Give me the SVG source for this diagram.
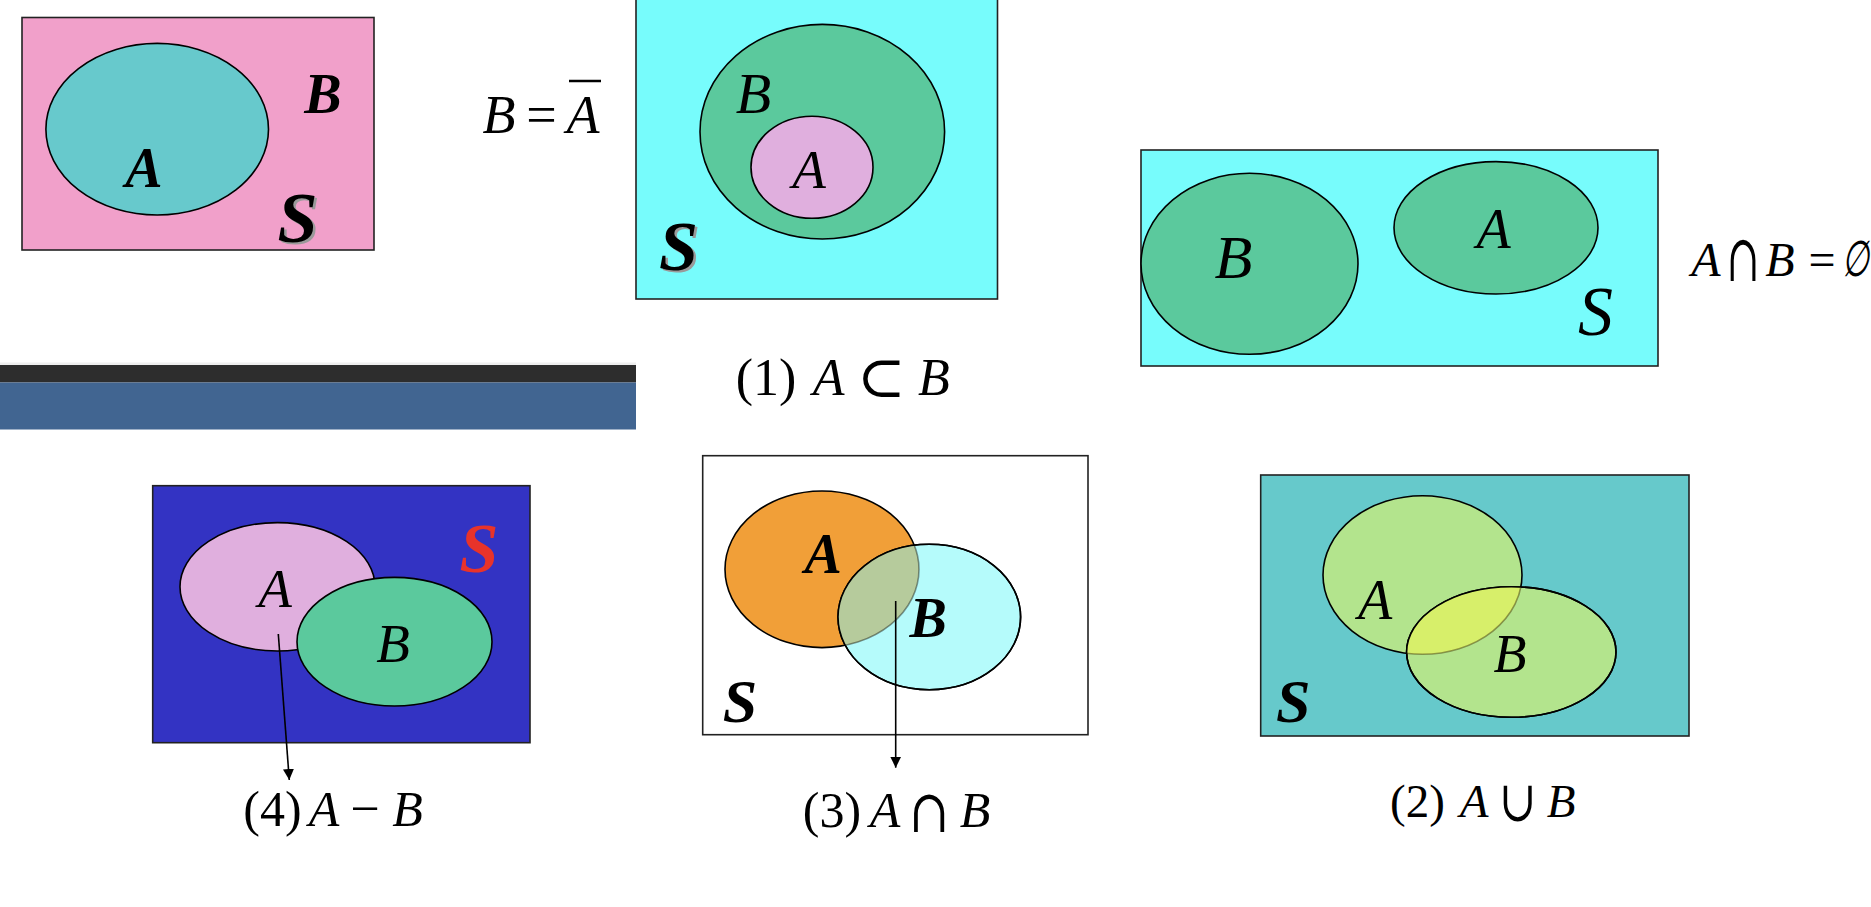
<svg xmlns="http://www.w3.org/2000/svg" width="1871" height="907" viewBox="0 0 1871 907">
<style>
.bi{font-family:"Liberation Serif","Times New Roman",serif;font-style:italic;font-weight:bold;text-anchor:middle}
.i{font-family:"Liberation Serif","Times New Roman",serif;font-style:italic;text-anchor:middle}
.r{font-family:"Liberation Serif","Times New Roman",serif;text-anchor:middle}
.m{font-family:"DejaVu Serif",serif;text-anchor:middle}
.frame{stroke:#222;stroke-width:1.6}
.edge{stroke:#000;stroke-width:1.6}
.conn{stroke:#000;stroke-width:1.6;fill:none}
</style>
<defs>
<marker id="ah" viewBox="0 0 10 10" refX="10" refY="5" markerWidth="11" markerHeight="11" markerUnits="userSpaceOnUse" orient="auto">
<path d="M0,0 L10,5 L0,10 Z" fill="#000"/>
</marker>
<clipPath id="clipB3"><ellipse cx="929.3" cy="617" rx="91.3" ry="72.7"/></clipPath>
<clipPath id="clipB2"><ellipse cx="1511.3" cy="652" rx="104.7" ry="65.3"/></clipPath>
</defs>
<rect width="1871" height="907" fill="#fff"/>

<g id="complement">
<rect x="22" y="17.5" width="352" height="232.5" fill="#F1A0CA" class="frame"/>
<ellipse cx="157.2" cy="129.2" rx="111.3" ry="85.8" fill="#67C9CC" class="edge"/>
<text class="bi" x="144" y="187" font-size="56">A</text>
<text class="bi" x="323" y="113" font-size="56">B</text>
<text class="bi" x="300" y="244" font-size="72" fill="#9a9a9a">S</text>
<text class="bi" x="297.5" y="242" font-size="72">S</text>
</g>

<g id="complement-formula">
<text class="i" x="499" y="133" font-size="54">B</text>
<text class="r" x="541.5" y="133" font-size="54">=</text>
<text class="i" x="583" y="133" font-size="54">A</text>
<line x1="569" y1="81" x2="601" y2="81" stroke="#000" stroke-width="2.5"/>
</g>

<g id="subset">
<rect x="636" y="-2" width="361.5" height="301" fill="#77FCFC" class="frame"/>
<ellipse cx="822.3" cy="131.7" rx="122.3" ry="107.3" fill="#5BC99D" class="edge"/>
<ellipse cx="812" cy="167.3" rx="61" ry="51" fill="#E0AFDE" class="edge"/>
<text class="i" x="753.5" y="113" font-size="58">B</text>
<text class="i" x="809" y="188" font-size="55">A</text>
<text class="bi" x="681" y="272" font-size="70" fill="#9a9a9a">S</text>
<text class="bi" x="678.5" y="270" font-size="70">S</text>
<text class="r" x="766" y="395" font-size="52">(1)</text>
<text class="i" x="828.6" y="395" font-size="52">A</text>
<text class="m" x="881.3" y="397" font-size="58">⊂</text>
<text class="i" x="934" y="395" font-size="52">B</text>
</g>

<g id="disjoint">
<rect x="1141" y="150" width="517" height="216" fill="#77FCFC" class="frame"/>
<ellipse cx="1249.5" cy="263.8" rx="108.5" ry="90.5" fill="#5BC99D" class="edge"/>
<ellipse cx="1496" cy="227.8" rx="102" ry="66.2" fill="#5BC99D" class="edge"/>
<text class="i" x="1233.5" y="278" font-size="62">B</text>
<text class="i" x="1493.5" y="248" font-size="56">A</text>
<text class="i" x="1595.5" y="335" font-size="70">S</text>
</g>

<g id="disjoint-formula">
<text class="i" x="1706" y="276" font-size="48">A</text>
<text class="m" transform="translate(1743,281) scale(0.6,1)" font-size="66">∩</text>
<text class="i" x="1780" y="276" font-size="48">B</text>
<text class="r" x="1822" y="276" font-size="48">=</text>
<text class="m" transform="translate(1842,276) scale(0.62,1)" font-size="50" font-style="italic" style="text-anchor:start">∅</text>
</g>

<g id="divider">
<rect x="0" y="362.5" width="636" height="2.5" fill="#eeeeee"/>
<rect x="0" y="365" width="636" height="17.5" fill="#2D2D2D"/>
<rect x="0" y="382.5" width="636" height="47" fill="#416591"/>
</g>

<g id="difference">
<rect x="152.7" y="485.7" width="377.3" height="257" fill="#3333C3" class="frame"/>
<ellipse cx="277.5" cy="586.8" rx="97.5" ry="64.2" fill="#E0AFDE" class="edge"/>
<ellipse cx="394.5" cy="641.7" rx="97.5" ry="64.3" fill="#5BC99D" class="edge"/>
<text class="i" x="275" y="606.7" font-size="55">A</text>
<text class="i" x="393" y="661.7" font-size="55">B</text>
<text class="bi" x="479" y="571.7" font-size="70" fill="#E8332A">S</text>
<text class="r" x="272.5" y="826" font-size="50">(4)</text>
<text class="i" x="324" y="826" font-size="50">A</text>
<text class="r" x="365" y="826" font-size="52">−</text>
<text class="i" x="407.5" y="826" font-size="50">B</text>
</g>

<g id="intersection">
<rect x="702.7" y="455.7" width="385.3" height="279" fill="#fff" class="frame"/>
<ellipse cx="822" cy="569.3" rx="97" ry="78.3" fill="#F19F38" class="edge"/>
<ellipse cx="929.3" cy="617" rx="91.3" ry="72.7" fill="#B5FBFB" class="edge"/>
<ellipse cx="822" cy="569.3" rx="97" ry="78.3" fill="#B6CB9C" clip-path="url(#clipB3)"/>
<ellipse cx="929.3" cy="617" rx="91.3" ry="72.7" fill="none" class="edge"/>
<ellipse cx="822" cy="569.3" rx="97" ry="78.3" fill="none" stroke="#000" stroke-width="1.6" stroke-opacity="0.4" clip-path="url(#clipB3)"/>
<text class="bi" x="823.3" y="572.7" font-size="56">A</text>
<text class="bi" x="928.3" y="636.7" font-size="56">B</text>
<text class="bi" x="740" y="721.7" font-size="62">S</text>
<text class="r" x="832" y="826.7" font-size="50">(3)</text>
<text class="i" x="885" y="826.7" font-size="50">A</text>
<text class="m" transform="translate(929,832) scale(0.8,1)" font-size="60">∩</text>
<text class="i" x="975" y="826.7" font-size="50">B</text>
</g>

<g id="union">
<rect x="1260.7" y="475" width="428.3" height="261" fill="#66C9CB" class="frame"/>
<ellipse cx="1422.5" cy="575" rx="99.5" ry="79.3" fill="#B3E48D" class="edge"/>
<ellipse cx="1511.3" cy="652" rx="104.7" ry="65.3" fill="#B3E48D" class="edge"/>
<ellipse cx="1422.5" cy="575" rx="99.5" ry="79.3" fill="#D7EF6A" clip-path="url(#clipB2)"/>
<ellipse cx="1511.3" cy="652" rx="104.7" ry="65.3" fill="none" class="edge"/>
<ellipse cx="1422.5" cy="575" rx="99.5" ry="79.3" fill="none" stroke="#3a2a00" stroke-width="1.6" stroke-opacity="0.45" clip-path="url(#clipB2)"/>
<text class="i" x="1375" y="619.3" font-size="56">A</text>
<text class="i" x="1510" y="671.7" font-size="54">B</text>
<text class="bi" x="1293.3" y="721.7" font-size="62">S</text>
<text class="r" x="1417.5" y="816.7" font-size="47">(2)</text>
<text class="i" x="1474" y="816.7" font-size="47">A</text>
<text class="m" transform="translate(1517.5,821) scale(0.78,1)" font-size="57">∪</text>
<text class="i" x="1561" y="816.7" font-size="47">B</text>
</g>

<g id="connectors">
<line class="conn" x1="278.3" y1="634" x2="289.3" y2="780" marker-end="url(#ah)"/>
<line class="conn" x1="895.7" y1="601" x2="895.7" y2="767.7" marker-end="url(#ah)"/>
</g>
</svg>
